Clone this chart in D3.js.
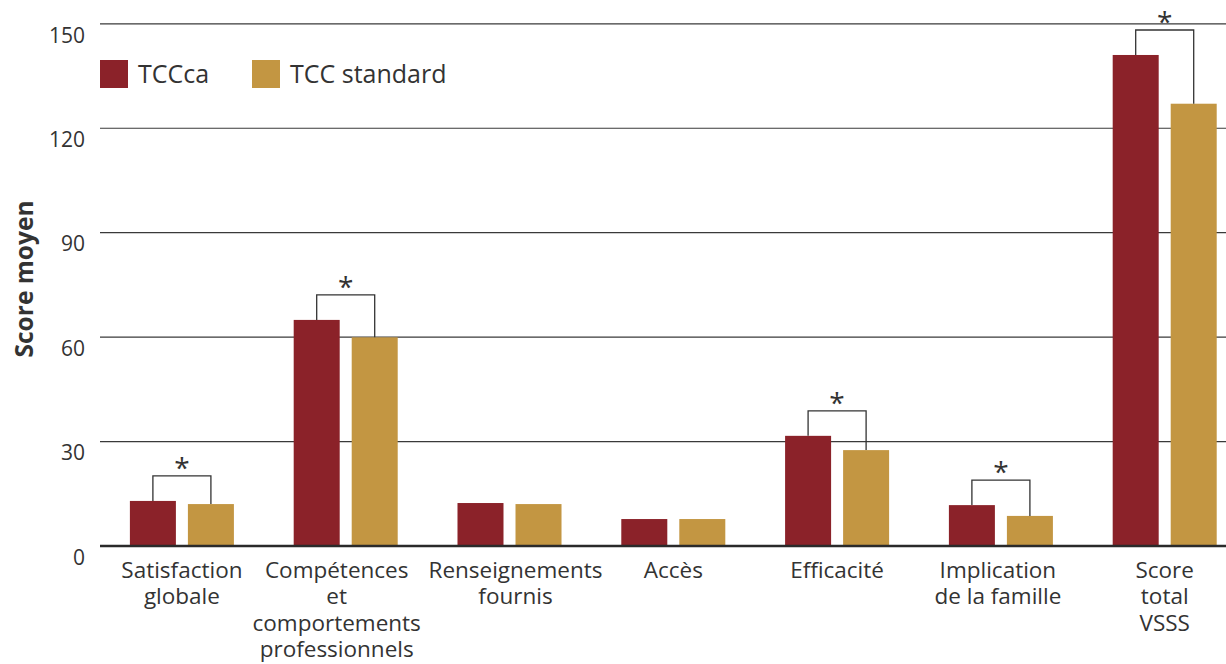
<!DOCTYPE html>
<html>
<head>
<meta charset="utf-8">
<script src="https://cdn.jsdelivr.net/npm/d3@7"></script>
<style>
  body { margin: 0; background: #fff; }
  text { font-family: "Open Sans", "Noto Sans", sans-serif; fill: #333; }
</style>
</head>
<body>
<main></main>
<script>
const categories = ["Satisfaction\nglobale", "Compétences\net\ncomportements\nprofessionnels", "Renseignements\nfournis", "Accès", "Efficacité", "Implication\nde la famille", "Score\ntotal\nVSSS"];
const series = ["TCCca", "TCC standard"];
const tccca = [12.8, 64.8, 12.2, 7.6, 31.5, 11.6, 140.9];
const tccStandard = [11.9, 59.8, 11.9, 7.6, 27.4, 8.5, 126.9];
const significant = [true, true, false, false, true, true, true];
const yTicks = [0, 30, 60, 90, 120, 150];
const colours = ["#8b2229", "#c39642"];

const width = 1226, height = 664;

let svg = d3.select("main").append("svg").attr("width", width).attr("height", height);

let y = d3.scaleLinear().domain([0, 150]).range([545.5, 23.3]);

let x0 = d3.scaleBand()
  .domain(categories)
  .range([100, 100 + 7 * 163.8])
  .paddingInner(0.365)
  .paddingOuter(0.1825);

let x1 = d3.scaleBand()
  .domain(series)
  .range([0, x0.bandwidth()])
  .paddingInner(0.207)
  .paddingOuter(0);

// gridlines + tick labels
let yAxis = d3.axisLeft(y)
  .tickValues(yTicks)
  .tickSize(-(width - 100))
  .tickPadding(15);

let gy = svg.append("g").attr("transform", "translate(100,0)").call(yAxis);
gy.select(".domain").remove();
gy.selectAll(".tick line").attr("stroke", "#3a3a3a").attr("stroke-width", 1.2)
  .filter(d => d === 0).remove();
gy.selectAll(".tick text")
  .attr("fill", "#333")
  .attr("font-size", "21px")
  .attr("y", 12)
  .style("font-family", "'Open Sans', sans-serif");

svg.append("text")
  .attr("transform", `translate(33,279) rotate(-90)`)
  .attr("text-anchor", "middle")
  .attr("font-size", "24.5px")
  .attr("font-weight", "bold")
  .text("Score moyen");

// bars
let rows = categories.map((c, i) => ({ cat: c, values: [tccca[i], tccStandard[i]], sig: significant[i] }));

let groups = svg.selectAll("g.group")
  .data(rows)
  .enter()
  .append("g")
  .attr("class", "group")
  .attr("transform", d => `translate(${x0(d.cat)},0)`);

groups.selectAll("rect")
  .data(d => d.values.map((v, j) => ({ key: series[j], value: v })))
  .enter()
  .append("rect")
  .attr("x", d => x1(d.key))
  .attr("y", d => y(d.value))
  .attr("width", x1.bandwidth())
  .attr("height", d => y(0) - y(d.value))
  .attr("fill", (d, j) => colours[j]);

// baseline
svg.append("line")
  .attr("x1", 100).attr("x2", width)
  .attr("y1", y(0) + 0.5).attr("y2", y(0) + 0.5)
  .attr("stroke", "#2a2a2a")
  .attr("stroke-width", 2.5);

// significance brackets
let sigGroups = groups.filter(d => d.sig);
sigGroups.append("path")
  .attr("fill", "none")
  .attr("stroke", "#333")
  .attr("stroke-width", 1.3)
  .attr("d", d => {
    let xa = x1(series[0]) + x1.bandwidth() / 2;
    let xb = x1(series[1]) + x1.bandwidth() / 2;
    let top = y(d3.max(d.values)) - 25;
    return `M${xa},${y(d.values[0])}V${top}H${xb}V${y(d.values[1])}`;
  });
sigGroups.append("text")
  .attr("x", x0.bandwidth() / 2)
  .attr("y", d => y(d3.max(d.values)) - 23)
  .attr("text-anchor", "middle")
  .attr("font-size", "28px")
  .text("*");

// category labels (the two long neighbours are pushed apart a little)
function labelShift(i) {
  if (i === 1) return -9;
  if (i === 2) return 6;
  if (i === 5) return -3;
  return 0;
}

let labels = svg.selectAll("text.cat")
  .data(categories)
  .enter()
  .append("text")
  .attr("class", "cat")
  .attr("text-anchor", "middle")
  .attr("font-size", "22.5px")
  .attr("transform", (d, i) => `translate(${x0(d) + x0.bandwidth() / 2 + labelShift(i)},578)`);

labels.selectAll("tspan")
  .data(d => d.split("\n"))
  .enter()
  .append("tspan")
  .attr("x", 0)
  .attr("y", (d, i) => i * 26.3)
  .text(d => d);

// legend
let legend = svg.append("g").attr("transform", "translate(100,60)");
let items = legend.selectAll("g")
  .data(series)
  .enter()
  .append("g")
  .attr("transform", (d, i) => `translate(${i * 152},0)`);
items.append("rect").attr("width", 28).attr("height", 28).attr("fill", (d, i) => colours[i]);
items.append("text").attr("x", 38).attr("y", 23).attr("font-size", "25px").text(d => d);
</script>
</body>
</html>
